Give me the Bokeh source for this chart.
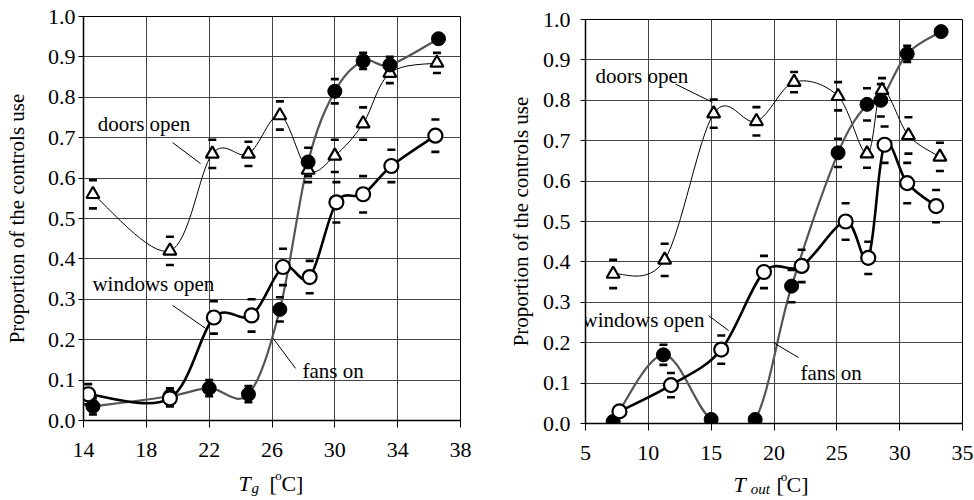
import numpy as np
from bokeh.plotting import figure
from bokeh.layouts import row, column
from bokeh.models import Label, NumeralTickFormatter, FixedTicker, Range1d
from bokeh.embed import file_html
from bokeh.resources import INLINE

# ---------------- Left panel: globe temperature Tg ----------------
tg_doors = [14.6, 19.5, 22.2, 24.5, 26.5, 28.3, 30.0, 31.8, 33.5, 36.5]
doors_tg = [0.56, 0.42, 0.66, 0.66, 0.755, 0.62, 0.655, 0.735, 0.86, 0.885]
doors_tg_err = [0.035, 0.035, 0.035, 0.03, 0.035, 0.03, 0.04, 0.04, 0.025, 0.025]

tg_fans = [14.6, 19.5, 22.0, 24.5, 26.5, 28.3, 30.0, 31.8, 33.5, 36.6]
fans_tg = [0.035, 0.06, 0.08, 0.065, 0.275, 0.64, 0.815, 0.89, 0.88, 0.945]
fans_tg_err = [0.02, 0.02, 0.02, 0.02, 0.03, 0.035, 0.03, 0.02, 0.02, 0.01]

tg_windows = [14.3, 19.5, 22.3, 24.7, 26.7, 28.4, 30.1, 31.8, 33.6, 36.4]
windows_tg = [0.065, 0.055, 0.255, 0.26, 0.38, 0.355, 0.54, 0.56, 0.63, 0.705]
windows_tg_err = [0.025, 0.02, 0.04, 0.04, 0.045, 0.04, 0.05, 0.045, 0.04, 0.04]

tg_ticks = [14, 18, 22, 26, 30, 34, 38]

# ---------------- Right panel: outdoor temperature Tout ----------------
tout_doors = [7.2, 11.3, 15.2, 18.6, 21.6, 25.1, 27.4, 28.6, 30.7, 33.2]
doors_tout = [0.37, 0.405, 0.767, 0.748, 0.845, 0.81, 0.668, 0.825, 0.713, 0.66]
doors_tout_err = [0.035, 0.04, 0.035, 0.035, 0.025, 0.035, 0.035, 0.03, 0.045, 0.035]

tout_fans = [7.2, 11.2, 15.0, 18.5, 21.4, 25.1, 27.4, 28.5, 30.6, 33.3]
fans_tout = [0.005, 0.17, 0.01, 0.01, 0.34, 0.67, 0.79, 0.80, 0.915, 0.97]
fans_tout_err = [0.01, 0.025, 0.01, 0.01, 0.04, 0.035, 0.04, 0.04, 0.02, 0.01]

tout_windows = [7.7, 11.8, 15.8, 19.2, 22.2, 25.7, 27.5, 28.8, 30.6, 32.9]
windows_tout = [0.03, 0.095, 0.183, 0.375, 0.39, 0.50, 0.41, 0.69, 0.595, 0.538]
windows_tout_err = [0.01, 0.03, 0.035, 0.04, 0.04, 0.045, 0.04, 0.045, 0.05, 0.04]

tout_ticks = [5, 10, 15, 20, 25, 30, 35]
y_ticks = [0.0, 0.1, 0.2, 0.3, 0.4, 0.5, 0.6, 0.7, 0.8, 0.9, 1.0]

SERIF = "Liberation Serif"
MAIN_H = 466
LAB_H = 34


def smooth(p, xs, ys, color, width):
    """Draw a smoothed curve through the points with Bokeh bezier glyphs."""
    x = np.asarray(xs, float)
    y = np.asarray(ys, float)
    xp = np.concatenate([[x[0]], x, [x[-1]]])
    yp = np.concatenate([[y[0]], y, [y[-1]]])
    n = len(x)
    x0, y0 = x[:-1], y[:-1]
    x1, y1 = x[1:], y[1:]
    cx0 = x0 + (xp[2:n + 1] - xp[0:n - 1]) / 6.0
    cy0 = y0 + (yp[2:n + 1] - yp[0:n - 1]) / 6.0
    cx1 = x1 - (xp[3:n + 2] - xp[1:n]) / 6.0
    cy1 = y1 - (yp[3:n + 2] - yp[1:n]) / 6.0
    p.bezier(x0=x0, y0=y0, x1=x1, y1=y1, cx0=cx0, cy0=cy0, cx1=cx1, cy1=cy1,
             line_color=color, line_width=width)


def errbars(p, xs, ys, errs):
    x = np.asarray(xs, float)
    y = np.asarray(ys, float)
    e = np.asarray(errs, float)
    p.scatter(np.concatenate([x, x]), np.concatenate([y + e, y - e]),
              marker="dash", size=8, line_width=2.6, line_color="black")


def make_panel(xr, ticks, border_left, border_right, border_top, tick_standoff, label_standoff,
               doors, fans, windows):
    p = figure(width=487, height=MAIN_H, output_backend="svg", toolbar_location=None,
               x_range=xr, y_range=Range1d(0, 1.0),
               min_border_left=border_left, min_border_right=border_right,
               min_border_top=border_top, min_border_bottom=MAIN_H - border_top - 404,
               background_fill_color="white", border_fill_color="white")
    p.outline_line_color = "black"
    p.outline_line_width = 1
    p.xaxis.ticker = FixedTicker(ticks=ticks)
    p.yaxis.ticker = FixedTicker(ticks=y_ticks)
    p.yaxis.formatter = NumeralTickFormatter(format="0.0")
    for ax in (p.xaxis[0], p.yaxis[0]):
        ax.axis_line_color = "black"
        ax.axis_line_width = 1.5
        ax.major_tick_line_color = "black"
        ax.major_tick_in = 0
        ax.minor_tick_line_color = None
        ax.major_label_text_font = SERIF
        ax.major_label_text_font_size = "22px"
        ax.major_label_text_color = "black"
    p.xaxis.major_tick_out = 7
    p.xaxis.major_label_standoff = 15
    p.yaxis.major_tick_out = 5
    p.yaxis.major_label_standoff = tick_standoff
    p.yaxis.axis_label = "Proportion of the controls use"
    p.yaxis.axis_label_text_font = SERIF
    p.yaxis.axis_label_text_font_size = "21px"
    p.yaxis.axis_label_text_font_style = "normal"
    p.yaxis.axis_label_text_color = "black"
    p.yaxis.axis_label_standoff = label_standoff
    p.grid.grid_line_color = "#444444"
    p.grid.grid_line_width = 1

    (dx, dy, de), (fx, fy, fe), (wx, wy, we) = doors, fans, windows
    smooth(p, dx, dy, "black", 1)
    smooth(p, fx, fy, "#555555", 2.2)
    smooth(p, wx, wy, "black", 2.6)
    errbars(p, dx, dy, de)
    errbars(p, fx, fy, fe)
    errbars(p, wx, wy, we)
    p.scatter(dx, dy, marker="triangle", size=13, line_width=2.2,
              line_color="black", fill_color="white")
    p.scatter(fx, fy, marker="circle", size=14, line_width=1,
              line_color="black", fill_color="black")
    p.scatter(wx, wy, marker="circle", size=14, line_width=2.2,
              line_color="black", fill_color="white")
    return p


def label_strip(xr, border_left, border_right):
    q = figure(width=487, height=LAB_H, output_backend="svg", toolbar_location=None,
               x_range=xr, y_range=Range1d(0, LAB_H),
               min_border_left=border_left, min_border_right=border_right,
               min_border_top=0, min_border_bottom=0,
               x_axis_type=None, y_axis_type=None,
               background_fill_color="white", border_fill_color="white")
    q.outline_line_color = None
    q.grid.visible = False
    return q


def text(p, x, y, s, size="21px", style="normal", baseline="middle"):
    p.add_layout(Label(x=x, y=y, text=s, text_font=SERIF, text_font_size=size,
                       text_font_style=style, text_color="black",
                       text_baseline=baseline, text_align="left"))


xr_left = Range1d(14, 38)
xr_right = Range1d(5, 35)

left = make_panel(xr_left, tg_ticks, 83, 27, 16, 3, 16,
                  (tg_doors, doors_tg, doors_tg_err),
                  (tg_fans, fans_tg, fans_tg_err),
                  (tg_windows, windows_tg, windows_tg_err))
right = make_panel(xr_right, tout_ticks, 98, 12, 19, 10, 7,
                   (tout_doors, doors_tout, doors_tout_err),
                   (tout_fans, fans_tout, fans_tout_err),
                   (tout_windows, windows_tout, windows_tout_err))

# annotations, left
text(left, 14.9, 0.735, "doors open")
left.line([19.67, 21.45], [0.688, 0.636], line_color="black", line_width=1)
text(left, 14.57, 0.338, "windows open")
left.line([19.67, 21.77], [0.285, 0.228], line_color="black", line_width=1)
text(left, 27.94, 0.1225, "fans on")
left.line([26.04, 27.5], [0.205, 0.129], line_color="black", line_width=1)

# annotations, right
text(right, 5.8, 0.861, "doors open")
right.line([12.17, 15.11], [0.84, 0.795], line_color="black", line_width=1)
text(right, 4.76, 0.256, "windows open")
right.line([14.79, 16.39], [0.267, 0.23], line_color="black", line_width=1)
text(right, 22.1, 0.126, "fans on")
right.line([19.97, 21.96], [0.20, 0.163], line_color="black", line_width=1)

# x-axis titles (with sub/superscripts) in strips under the panels
left_lab = label_strip(xr_left, 83, 27)
text(left_lab, 23.87, 17, "T", "22px", "italic", "alphabetic")
text(left_lab, 24.69, 13, "g", "15px", "italic", "alphabetic")
text(left_lab, 25.84, 17, "[", "22px", "normal", "alphabetic")
text(left_lab, 26.2, 25, "o", "13px", "normal", "alphabetic")
text(left_lab, 26.6, 17, "C]", "22px", "normal", "alphabetic")

right_lab = label_strip(xr_right, 98, 12)
text(right_lab, 16.78, 16, "T", "22px", "italic", "alphabetic")
text(right_lab, 18.14, 12, "out", "15px", "italic", "alphabetic")
text(right_lab, 20.2, 16, "[", "22px", "normal", "alphabetic")
text(right_lab, 20.53, 24, "o", "13px", "normal", "alphabetic")
text(right_lab, 21.0, 16, "C]", "22px", "normal", "alphabetic")

layout = row(column(left, left_lab), column(right, right_lab))
open("out.html", "w").write(file_html(layout, INLINE))
